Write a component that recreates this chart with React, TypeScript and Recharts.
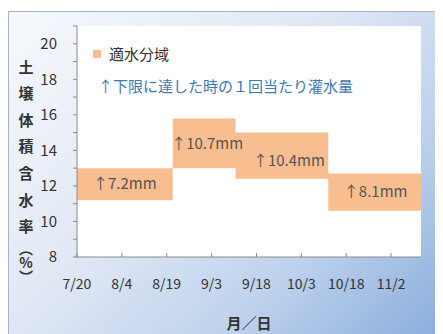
import { Area, AreaChart, CartesianGrid, Label, Legend, ReferenceArea, XAxis, YAxis } from "recharts";

const DAY_TICKS = [0, 15, 30, 45, 60, 75, 90, 105];
const DATE_LABELS = ["7/20", "8/4", "8/19", "9/3", "9/18", "10/3", "10/18", "11/2"];
const Y_TICKS = [8, 9, 10, 11, 12, 13, 14, 15, 16, 17, 18, 19, 20, 21];

// days counted from 7/20
const BAND_START = [0, 32, 53, 84];
const BAND_END = [32, 53, 84, 115];
const BAND_LOW = [11.2, 13.0, 12.4, 10.6];
const BAND_HIGH = [13.0, 15.8, 15.0, 12.7];
const IRRIGATION_MM = ["7.2", "10.7", "10.4", "8.1"];

const FONT = "'Noto Sans CJK JP', 'Noto Sans', sans-serif";
const BAND_COLOR = "#F8BE90";
const AXIS_COLOR = "#8a8a8a";
const TEXT = "#333";
// small nudges so the mm labels sit like the original
const LABEL_SHIFT = [
  { dx: 0, dy: 0 },
  { dx: 3, dy: 0 },
  { dx: 7, dy: 5 },
  { dx: 1, dy: 0 },
];

const data = [
  ...BAND_START.map((d, i) => ({ day: d, range: [BAND_LOW[i], BAND_HIGH[i]] })),
  { day: BAND_END[BAND_END.length - 1], range: [BAND_LOW[BAND_LOW.length - 1], BAND_HIGH[BAND_HIGH.length - 1]] },
];

const TITLE_CHARS = ["土", "壌", "体", "積", "含", "水", "率"];
const TITLE_UNIT = "（%）";

function VerticalTitle() {
  return (
    <g fontWeight="bold" fill={TEXT} fontFamily={FONT}>
      {TITLE_CHARS.map((c, i) => (
        <text key={i} x={18} y={55 + i * 26.6} textAnchor="middle" dominantBaseline="central" fontSize={15}>
          {c}
        </text>
      ))}
      <text x={18} y={231} fontSize={14} style={{ writingMode: "vertical-rl", textOrientation: "upright" }}>
        {TITLE_UNIT}
      </text>
    </g>
  );
}

function LegendBox({ payload }: any) {
  return (
    <div style={{ fontFamily: FONT, fontSize: 15, color: TEXT }}>
      {(payload || []).map((p: any) => (
        <div key={p.value} style={{ display: "flex", alignItems: "center", whiteSpace: "nowrap" }}>
          <span style={{ width: 8, height: 8, background: p.color, marginRight: 8, display: "inline-block" }} />
          {p.value}
        </div>
      ))}
    </div>
  );
}

export default function App() {
  return (
    <div
      style={{
        position: "relative",
        marginTop: 3,
        width: 434,
        height: 323,
        boxSizing: "border-box",
        borderTop: "1px solid #a8b3c4",
        borderLeft: "1px solid #a8b3c4",
        borderRight: "1px solid #c4d2e6",
        background: "linear-gradient(135deg, #f6f8fc 0%, #e2e9f5 40%, #c0d3ed 70%, #8aaedd 100%)",
        fontFamily: FONT,
      }}
    >
      <AreaChart width={434} height={323} data={data} margin={{ top: 15, right: 21, bottom: 3, left: 0 }} style={{ position: "absolute", left: -1, top: -1 }}>
        <CartesianGrid fill="#fff" horizontal={false} vertical={false} />
        <XAxis
          type="number"
          dataKey="day"
          domain={[0, 115]}
          ticks={DAY_TICKS}
          interval={0}
          tickFormatter={(d: number) => DATE_LABELS[DAY_TICKS.indexOf(d)]}
          tickSize={-4}
          tickMargin={26}
          height={74}
          stroke={AXIS_COLOR}
          tick={{ fill: TEXT, fontSize: 14, fontFamily: FONT }}
        >
          <Label value="月／日" position="insideBottom" offset={2} fill={TEXT} fontSize={15} fontWeight="bold" fontFamily={FONT} />
        </XAxis>
        <YAxis
          type="number"
          domain={[8, 21]}
          ticks={Y_TICKS}
          interval={0}
          tickFormatter={(v: number) => (v % 2 === 0 ? String(v) : "")}
          width={69}
          tickSize={4}
          tickMargin={16}
          stroke={AXIS_COLOR}
          tick={{ fill: TEXT, fontSize: 15, fontFamily: FONT }}
          label={{ content: () => <VerticalTitle /> }}
        />
        <Legend
          content={<LegendBox />}
          wrapperStyle={{ position: "absolute", left: 85, top: 32, width: "auto", height: 0, overflow: "visible" }}
        />
        <Area
          type="stepAfter"
          dataKey="range"
          name="適水分域"
          fill={BAND_COLOR}
          fillOpacity={1}
          stroke="none"
          legendType="square"
          isAnimationActive={false}
        />
        {BAND_START.map((s, i) => (
          <ReferenceArea
            key={i}
            x1={s}
            x2={BAND_END[i]}
            y1={BAND_LOW[i]}
            y2={BAND_HIGH[i]}
            fillOpacity={0}
            stroke="none"
            label={
              <Label
                value={`↑${IRRIGATION_MM[i]}mm`}
                position="center"
                fill="#555"
                fontSize={15}
                fontFamily={FONT}
                dx={LABEL_SHIFT[i].dx}
                dy={LABEL_SHIFT[i].dy}
              />
            }
          />
        ))}
      </AreaChart>
      <div style={{ position: "absolute", left: 89, top: 63, fontSize: 15, color: "#3b7ab3", whiteSpace: "nowrap" }}>
        ↑下限に達した時の１回当たり灌水量
      </div>
    </div>
  );
}
